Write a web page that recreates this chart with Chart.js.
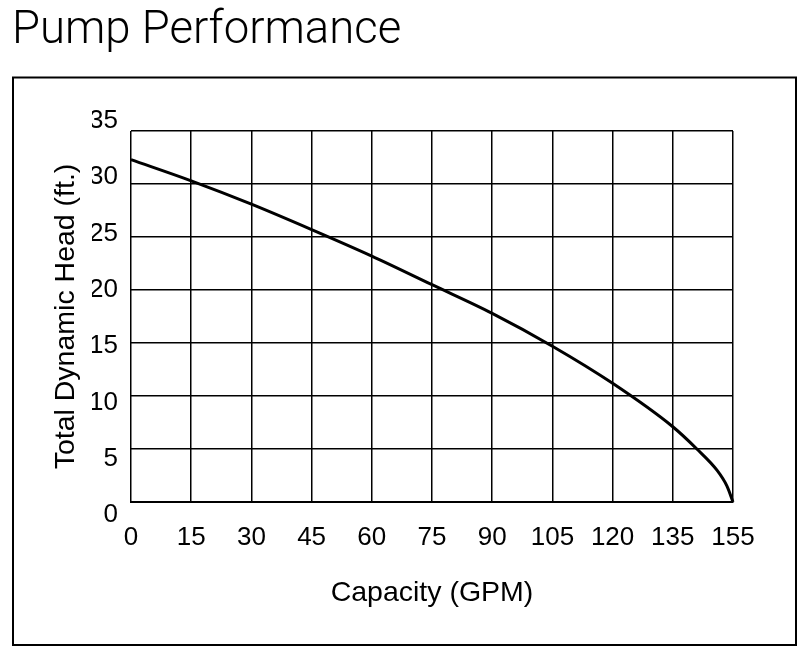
<!DOCTYPE html>
<html>
<head>
<meta charset="utf-8">
<title>Pump Performance</title>
<script src="https://cdn.jsdelivr.net/npm/chart.js@4"></script>
<style>
    html, body { margin: 0; padding: 0; background: #fff; }
    #wrap { width: 809px; height: 658px; }
</style>
</head>
<body>
<div id="wrap"><canvas id="chart" width="809" height="658"></canvas></div>
<script>
// values (capacity in axis units, last gridline is labelled 155)
const capacity = [0, 15, 30, 45, 60, 75, 90, 105, 120, 135, 141, 146, 148.5, 150];
const head = [32.3, 30.3, 28.1, 25.7, 23.2, 20.5, 17.8, 14.7, 11.2, 7.1, 5.0, 3.0, 1.5, 0];

const xTickLabels = ['0', '15', '30', '45', '60', '75', '90', '105', '120', '135', '155'];
const yTickLabels = [0, 5, 10, 15, 20, 25, 30, 35];

const ink = '#000';
const tickFont = { family: "'Liberation Sans', Arial, sans-serif", size: 26 };
const titleFont = { family: "'Liberation Sans', Arial, sans-serif", size: 28.5 };

// outer frame round the whole figure
const framePlugin = {
    id: 'frame',
    beforeDraw(chart) {
        const ctx = chart.ctx;
        ctx.save();
        ctx.fillStyle = '#fff';
        ctx.fillRect(0, 0, chart.width, chart.height);
        ctx.strokeStyle = ink;
        ctx.lineWidth = 2;
        ctx.strokeRect(13, 77.5, 783, 567.5);
        ctx.restore();
    }
};

new Chart(document.getElementById('chart'), {
    type: 'line',
    data: {
        datasets: [{
            data: capacity.map((c, i) => ({ x: c, y: head[i] })),
            borderColor: ink,
            borderWidth: 3,
            pointRadius: 0,
            cubicInterpolationMode: 'monotone',
            clip: false
        }]
    },
    options: {
        responsive: false,
        animation: false,
        layout: { padding: { left: 12, right: 76, top: 0, bottom: 0 } },
        plugins: {
            legend: { display: false },
            tooltip: { enabled: false },
            title: {
                display: true,
                text: 'Pump Performance',
                align: 'start',
                color: ink,
                font: { family: "Roboto, 'Liberation Sans', sans-serif", size: 45.5, weight: 300 },
                padding: { top: 4, bottom: 72.4 }
            }
        },
        scales: {
            x: {
                type: 'linear',
                min: 0,
                max: 150,
                afterFit(scale) { scale.height = 156; },
                grid: { color: ink, lineWidth: 1.5, drawTicks: false },
                border: { color: ink, width: 2 },
                ticks: {
                    stepSize: 15,
                    maxRotation: 0,
                    autoSkip: false,
                    padding: 20,
                    color: ink,
                    font: tickFont,
                    callback: (value, index) => xTickLabels[index]
                },
                title: {
                    display: true,
                    text: 'Capacity (GPM)',
                    color: ink,
                    font: titleFont,
                    padding: { top: 0, bottom: 48 }
                }
            },
            y: {
                type: 'linear',
                position: 'left',
                weight: 1,
                min: 0,
                max: 35,
                afterFit(scale) { scale.width = 80; },
                grid: { color: ink, lineWidth: 1.5, drawTicks: false },
                border: { display: false },
                ticks: { display: false, stepSize: 5 },
                title: {
                    display: true,
                    text: 'Total Dynamic Head (ft.)',
                    color: ink,
                    font: titleFont,
                    padding: { top: 37, bottom: 0 }
                }
            },
            // labels sit on a slightly wider spacing than the grid in the original
            yLabels: {
                type: 'linear',
                position: 'left',
                weight: 0,
                min: 1.155,
                max: 34.1,
                afterFit(scale) { scale.width = 39; },
                afterBuildTicks(scale) {
                    scale.ticks = yTickLabels.map(v => ({ value: v }));
                },
                grid: { display: false, drawTicks: false },
                border: { display: false },
                ticks: {
                    autoSkip: false,
                    padding: 13,
                    color: ink,
                    font: tickFont
                }
            }
        }
    },
    plugins: [framePlugin]
});
</script>
</body>
</html>
